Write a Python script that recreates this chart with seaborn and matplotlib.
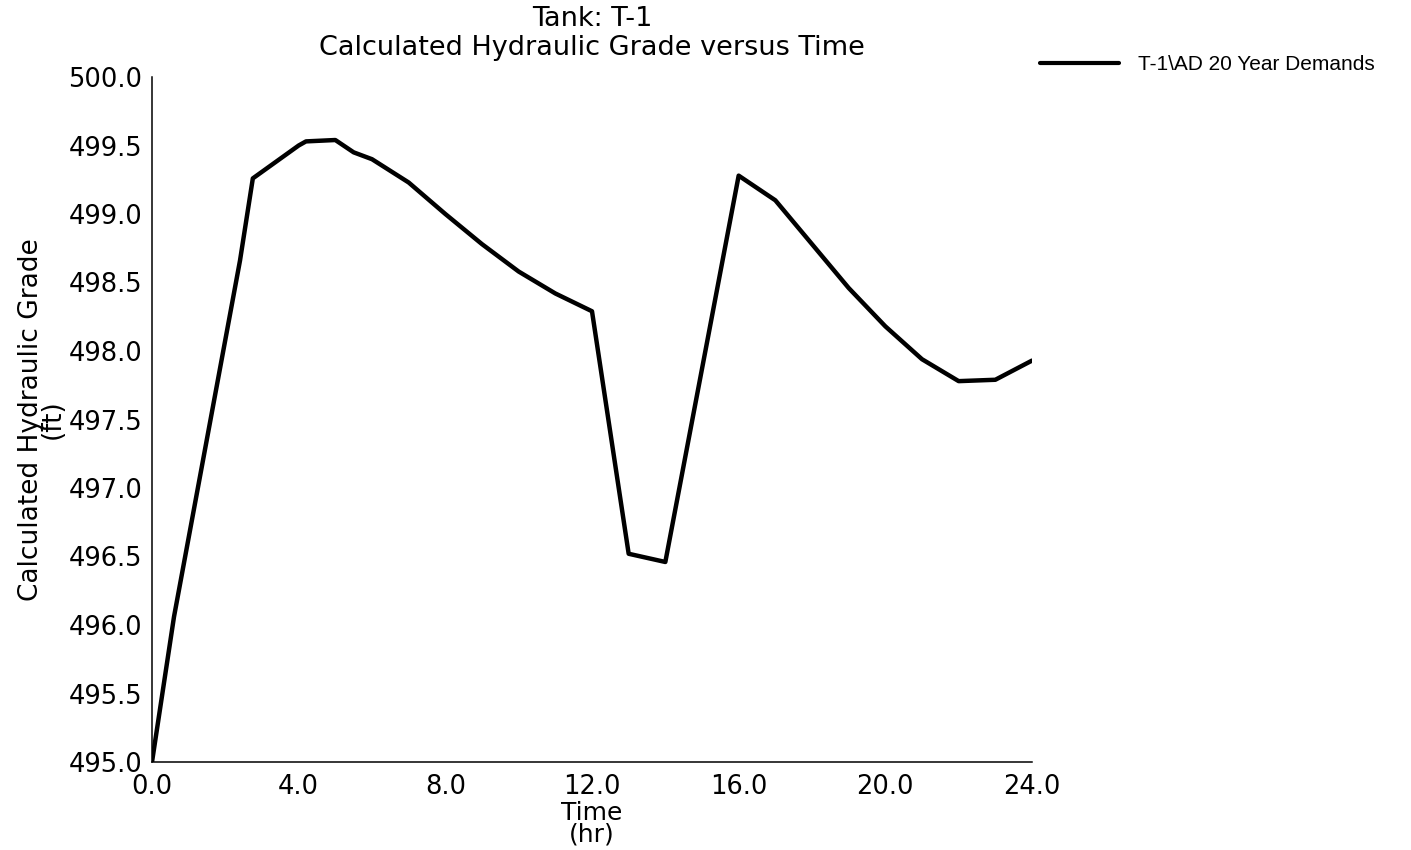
import matplotlib
matplotlib.use("Agg")
import matplotlib.pyplot as plt
import seaborn as sns
import pandas as pd

# Tank T-1 hydraulic grade over a 24 h extended-period run
time_hr = [0.0, 0.6, 2.4, 2.75, 4.0, 4.2, 5.0, 5.5, 6.0, 7.0, 8.0, 9.0,
           10.0, 11.0, 12.0, 13.0, 14.0, 16.0, 17.0, 18.0, 19.0, 20.0,
           21.0, 22.0, 23.0, 24.0]
grade_ft = [495.00, 496.06, 498.66, 499.26, 499.50, 499.53, 499.54, 499.45,
            499.40, 499.23, 499.00, 498.78, 498.58, 498.42, 498.29, 496.52,
            496.46, 499.28, 499.10, 498.78, 498.46, 498.18, 497.94, 497.78,
            497.79, 497.93]
series_name = "T-1\\AD 20 Year Demands"

x_ticks = [0, 4, 8, 12, 16, 20, 24]
y_ticks = [495.0, 495.5, 496.0, 496.5, 497.0, 497.5, 498.0, 498.5, 499.0,
           499.5, 500.0]

df = pd.DataFrame({"Time": time_hr, "Grade": grade_ft, "Series": series_name})

sns.set_style("white")
plt.rcParams["font.family"] = ["DejaVu Sans"]
plt.rcParams.update({"text.color": "black", "axes.labelcolor": "black",
                     "xtick.color": "black", "ytick.color": "black"})

fig = plt.figure(figsize=(14.11, 8.5), dpi=100)
ax = fig.add_axes([152 / 1411, 1 - 762 / 850, 880 / 1411, 685 / 850])

sns.lineplot(data=df, x="Time", y="Grade", hue="Series", palette=["black"],
             linewidth=3.2, sort=False, ax=ax, legend=False)

ax.set_xlim(0, 24)
ax.set_ylim(495, 500)
ax.set_xticks(x_ticks)
ax.set_yticks(y_ticks)
ax.xaxis.set_major_formatter(matplotlib.ticker.FormatStrFormatter("%.1f"))
ax.yaxis.set_major_formatter(matplotlib.ticker.FormatStrFormatter("%.1f"))

for side in ("top", "right"):
    ax.spines[side].set_visible(False)
for side in ("left", "bottom"):
    ax.spines[side].set_color("black")
    ax.spines[side].set_linewidth(1.1)

ax.tick_params(axis="both", direction="inout", length=8, width=1,
               colors="black", labelsize=18.5, pad=3)
ax.tick_params(axis="x", pad=5)

ax.set_xlabel("Time\n(hr)", fontsize=18, linespacing=0.9, labelpad=0)
ax.set_ylabel("Calculated Hydraulic Grade\n(ft)", fontsize=19,
              linespacing=0.75, labelpad=2)
ax.set_title("Tank: T-1\nCalculated Hydraulic Grade versus Time",
             fontsize=19.5, linespacing=1.12, pad=16)

handle = matplotlib.lines.Line2D([], [], color="black", linewidth=3.0)
fig.legend([handle], [series_name], loc="center left",
           bbox_to_anchor=(1040 / 1411, 1 - 65 / 850), frameon=False,
           prop={"family": "Liberation Sans", "size": 15},
           handlelength=3.8, handletextpad=0.9, borderpad=0,
           borderaxespad=0)

fig.savefig("out.png", dpi=100, facecolor="white")
